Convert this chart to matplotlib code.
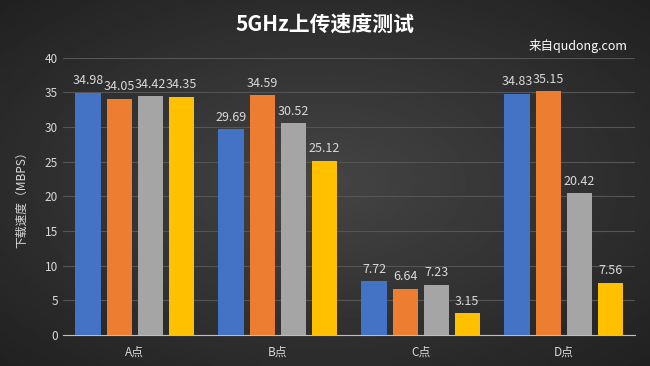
import numpy as np
import matplotlib
matplotlib.use("Agg")
import matplotlib.pyplot as plt

plt.rcParams['font.family'] = ['Noto Sans CJK SC', 'DejaVu Sans']

categories = ["A点", "B点", "C点", "D点"]
series1 = [34.98, 29.69, 7.72, 34.83]
series2 = [34.05, 34.59, 6.64, 35.15]
series3 = [34.42, 30.52, 7.23, 20.42]
series4 = [34.35, 25.12, 3.15, 7.56]
yticks = [0, 5, 10, 15, 20, 25, 30, 35, 40]

colors = ['#4472C4', '#ED7D31', '#A5A5A5', '#FFC000']
text_col = '#d9d9d9'

fig = plt.figure(figsize=(6.5, 3.66), dpi=100)

# dark radial background
bg = fig.add_axes([0, 0, 1, 1], zorder=-1)
yy, xx = np.mgrid[-1:1:200j, -1:1:300j]
r = np.sqrt(xx**2 + yy**2)
bg.imshow(0.27 - 0.1 * r, cmap='gray', vmin=0, vmax=1, aspect='auto', extent=[0, 1, 0, 1])
bg.axis('off')

ax = fig.add_axes([0.097, 0.085, 0.88, 0.757])
ax.patch.set_alpha(0)

x = np.arange(len(categories))
step = 0.217
width = 0.175
all_series = [series1, series2, series3, series4]
for i, vals in enumerate(all_series):
    pos = x + (i - 1.5) * step
    bars = ax.bar(pos, vals, width, color=colors[i], zorder=3)
    for b, v in zip(bars, vals):
        ax.annotate(f"{v:g}", (b.get_x() + b.get_width() / 2, v),
                    xytext=(0, 4), textcoords='offset points',
                    ha='center', va='bottom', color=text_col, fontsize=9)

ax.set_xlim(-0.5, 3.5)
ax.set_ylim(0, 40)
ax.set_yticks(yticks)
ax.set_xticks(x)
ax.set_xticklabels(categories)
ax.tick_params(colors=text_col, labelsize=8.5, length=0)
ax.tick_params(axis='x', pad=8)
ax.yaxis.grid(True, color='#555555', linewidth=0.8, zorder=0)
for s in ['top', 'right', 'left']:
    ax.spines[s].set_visible(False)
ax.spines['bottom'].set_color('#bfbfbf')
ax.set_ylabel("下载速度（MBPS）", color=text_col, fontsize=8.5, labelpad=12)

fig.text(0.5, 0.935, "5GHz上传速度测试", ha='center', va='center',
         color='white', fontsize=15, fontweight='bold')
fig.text(0.965, 0.875, "来自qudong.com", ha='right', va='center',
         color='white', fontsize=9)

fig.savefig("out.png", dpi=100, facecolor='#333333')
